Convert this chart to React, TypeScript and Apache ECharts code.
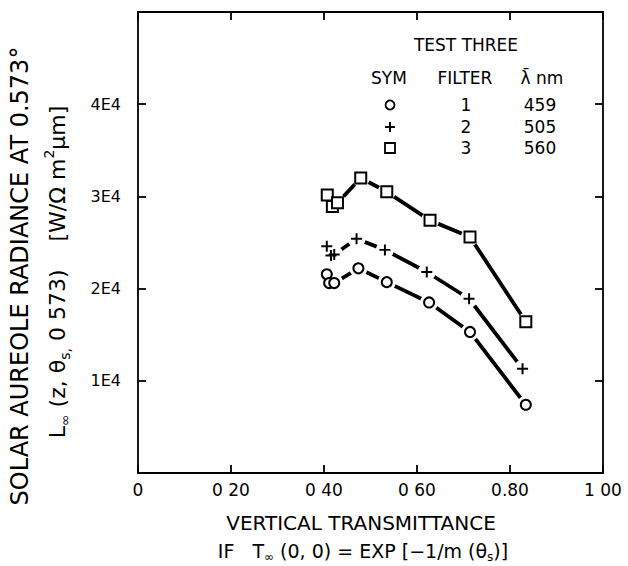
import React, { useEffect, useRef } from "react";
import * as echarts from "echarts";

// ---- Data ----
const xTickValues = [0, 0.2, 0.4, 0.6, 0.8, 1.0];
const xTickLabels = ["0", "0 20", "0 40", "0 60", "0.80", "1 00"];
const yTickValues = [10000, 20000, 30000, 40000];
const yTickLabels = ["1E4", "2E4", "3E4", "4E4"];

// Filter 1 (circle, 459 nm)
const filter1X = [0.406, 0.411, 0.422, 0.474, 0.535, 0.626, 0.714, 0.834];
const filter1Y = [21550, 20600, 20600, 22200, 20700, 18500, 15300, 7400];
// Filter 2 (plus, 505 nm)
const filter2X = [0.406, 0.415, 0.422, 0.470, 0.531, 0.621, 0.712, 0.827];
const filter2Y = [24600, 23600, 23700, 25400, 24200, 21800, 18900, 11300];
// Filter 3 (square, 560 nm)
const filter3X = [0.407, 0.418, 0.429, 0.479, 0.535, 0.628, 0.714, 0.834];
const filter3Y = [30150, 28900, 29300, 32000, 30500, 27400, 25600, 16400];

const legendFilters = ["1", "2", "3"];
const legendWavelengths = ["459", "505", "560"];

const FONT = "'DejaVu Sans', sans-serif";
const PLUS = "path://M4.1,0H5.9V4.1H10V5.9H5.9V10H4.1V5.9H0V4.1H4.1Z";

function labelFor(v: number, values: number[], labels: string[]) {
  for (let i = 0; i < values.length; i++) {
    if (Math.abs(values[i] - v) < 1e-6 * Math.max(1, Math.abs(v))) return labels[i];
  }
  return "";
}

function buildSeries(xs: number[], ys: number[], symbol: string, size: number, filled: boolean) {
  const pts = xs.map((x, i) => [x, ys[i]]);
  return [
    {
      type: "line",
      data: pts.slice(2),
      showSymbol: false,
      symbol: "none",
      lineStyle: { color: "#000", width: 3.8 },
      z: 2,
      silent: true,
    },
    {
      type: "scatter",
      data: pts,
      symbol: "circle",
      symbolSize: 18,
      itemStyle: { color: "#fff", opacity: 1 },
      z: 3,
      silent: true,
    },
    {
      type: "scatter",
      data: pts,
      symbol,
      symbolSize: size,
      itemStyle: filled
        ? { color: "#000", borderWidth: 0, opacity: 1 }
        : { color: "#fff", borderColor: "#000", borderWidth: 2, opacity: 1 },
      z: 4,
      silent: true,
    },
  ];
}

export default function App() {
  const ref = useRef<HTMLDivElement>(null);
  useEffect(() => {
    if (!ref.current) return;
    const chart = echarts.init(ref.current, undefined, { renderer: "svg" });
    const axisLine = { show: true, onZero: false, lineStyle: { color: "#000", width: 1.8 } };
    const axisTick = { show: true, inside: true, length: 8, lineStyle: { color: "#000", width: 1.8 } };
    const txt = { fill: "#000", font: `17px ${FONT}`, align: "center", verticalAlign: "middle" };
    const legendRows = [105, 127, 148];
    const graphic: any[] = [
      { type: "text", x: 466, y: 45, style: { ...txt, text: "TEST THREE" } },
      { type: "text", x: 389, y: 78, style: { ...txt, text: "SYM" } },
      { type: "text", x: 465, y: 78, style: { ...txt, text: "FILTER" } },
      { type: "text", x: 542, y: 78, style: { ...txt, text: "\u03BB\u0304 nm" } },
      { type: "circle", shape: { cx: 390, cy: legendRows[0], r: 4.5 }, style: { fill: "#fff", stroke: "#000", lineWidth: 1.8 } },
      { type: "rect", shape: { x: 385, y: legendRows[1] - 1, width: 10, height: 2 }, style: { fill: "#000" } },
      { type: "rect", shape: { x: 389, y: legendRows[1] - 5, width: 2, height: 10 }, style: { fill: "#000" } },
      { type: "rect", shape: { x: 385, y: legendRows[2] - 5, width: 10, height: 10 }, style: { fill: "#fff", stroke: "#000", lineWidth: 1.8 } },
      // y axis titles
      {
        type: "text", x: 20, y: 276, rotation: Math.PI / 2,
        style: { fill: "#000", font: `24px ${FONT}`, align: "center", verticalAlign: "middle", text: "SOLAR AUREOLE RADIANCE AT 0.573\u00B0" },
      },
      {
        type: "text", x: 57, y: 272, rotation: Math.PI / 2,
        style: {
          fill: "#000", font: `22px ${FONT}`, align: "center", verticalAlign: "middle",
          text: "{a|L}{sub|\u221E}{a| (z, \u03B8}{sub|s,}{a| 0 573)    [W/\u03A9 m}{sup|2}{a|\u03BCm]}",
          rich: {
            a: { fontSize: 22, fontFamily: FONT, lineHeight: 30, fill: "#000" },
            sub: { fontSize: 14, fontFamily: FONT, lineHeight: 14, verticalAlign: "bottom", fill: "#000" },
            sup: { fontSize: 14, fontFamily: FONT, lineHeight: 14, verticalAlign: "top", fill: "#000" },
          },
        },
      },
      // x axis titles
      { type: "text", x: 361, y: 523, style: { fill: "#000", font: `20px ${FONT}`, align: "center", verticalAlign: "middle", text: "VERTICAL TRANSMITTANCE" } },
      {
        type: "text", x: 363, y: 551,
        style: {
          fill: "#000", font: `19px ${FONT}`, align: "center", verticalAlign: "middle",
          text: "{a|IF   T}{sub|\u221E}{a| (0, 0) = EXP [\u22121/m (\u03B8}{sub|s}{a|)]}",
          rich: {
            a: { fontSize: 19, fontFamily: FONT, lineHeight: 24, fill: "#000" },
            sub: { fontSize: 12, fontFamily: FONT, lineHeight: 12, verticalAlign: "bottom", fill: "#000" },
          },
        },
      },
    ];
    legendRows.forEach((y, i) => {
      graphic.push({ type: "text", x: 466, y, style: { ...txt, text: legendFilters[i] } });
      graphic.push({ type: "text", x: 540, y, style: { ...txt, text: legendWavelengths[i] } });
    });

    chart.setOption({
      animation: false,
      backgroundColor: "#fff",
      grid: { left: 138, top: 12, right: 25, bottom: 93, containLabel: false },
      xAxis: [
        {
          type: "value", min: 0, max: 1, interval: 0.2, position: "bottom",
          axisLine, axisTick, splitLine: { show: false },
          axisLabel: {
            color: "#000", fontSize: 17, fontFamily: FONT, margin: 8,
            showMinLabel: true, showMaxLabel: true,
            formatter: (v: number) => labelFor(v, xTickValues, xTickLabels),
          },
        },
        {
          type: "value", min: 0, max: 1, interval: 0.2, position: "top",
          axisLine, axisTick, splitLine: { show: false }, axisLabel: { show: false },
        },
      ],
      yAxis: [
        {
          type: "value", min: 0, max: 50000, interval: 10000, position: "left",
          axisLine, axisTick, splitLine: { show: false },
          axisLabel: {
            color: "#000", fontSize: 16, fontFamily: FONT, margin: 17,
            formatter: (v: number) => labelFor(v, yTickValues, yTickLabels),
          },
        },
        {
          type: "value", min: 0, max: 50000, interval: 10000, position: "right",
          axisLine, axisTick, splitLine: { show: false }, axisLabel: { show: false },
        },
      ],
      series: [
        ...buildSeries(filter1X, filter1Y, "circle", 10, false),
        ...buildSeries(filter2X, filter2Y, PLUS, 11, true),
        ...buildSeries(filter3X, filter3Y, "rect", 11, false),
      ],
      graphic,
    });
    return () => chart.dispose();
  }, []);
  return <div ref={ref} style={{ width: 628, height: 566, position: "fixed", left: 0, top: 0, background: "#fff" }} />;
}
